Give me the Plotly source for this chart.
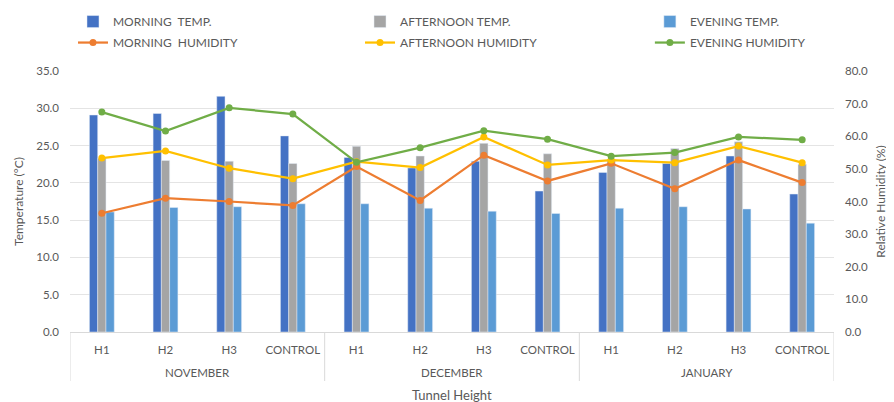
import plotly.graph_objects as go

months = ["NOVEMBER"] * 4 + ["DECEMBER"] * 4 + ["JANUARY"] * 4
heights = ["H1", "H2", "H3", "CONTROL"] * 3

morning_temp = [29.1, 29.3, 31.6, 26.3, 23.4, 22.0, 22.9, 18.9, 21.4, 22.6, 23.6, 18.5]
afternoon_temp = [23.3, 23.0, 22.9, 22.6, 24.9, 23.6, 25.3, 23.9, 23.2, 24.6, 25.5, 22.5]
evening_temp = [16.1, 16.7, 16.8, 17.2, 17.2, 16.6, 16.2, 15.9, 16.6, 16.8, 16.5, 14.6]
morning_hum = [36.4, 41.0, 40.0, 38.8, 50.7, 40.3, 54.2, 46.3, 51.7, 43.9, 52.7, 45.8]
afternoon_hum = [53.3, 55.5, 50.2, 47.0, 52.2, 50.4, 59.8, 51.2, 52.7, 51.9, 57.0, 51.9]
evening_hum = [67.4, 61.6, 68.7, 66.8, 52.0, 56.5, 61.7, 59.1, 53.9, 55.0, 59.8, 58.9]

idx = list(range(len(heights)))
FONT = "Lato, Arial, sans-serif"
TXT = "#595959"
LINE = "#d9d9d9"

fig = go.Figure()
fig.add_trace(go.Bar(x=idx, y=morning_temp, name="MORNING  TEMP.", marker_color="#4472C4",
                     legend="legend", legendgroup="a"))
fig.add_trace(go.Bar(x=idx, y=afternoon_temp, name="AFTERNOON TEMP.", marker_color="#A5A5A5",
                     legend="legend2", legendgroup="b"))
fig.add_trace(go.Bar(x=idx, y=evening_temp, name="EVENING TEMP.", marker_color="#5B9BD5",
                     legend="legend3", legendgroup="c"))
fig.add_trace(go.Scatter(x=idx, y=morning_hum, name="MORNING  HUMIDITY", yaxis="y2", mode="lines+markers",
                         line=dict(color="#ED7D31", width=2.25), marker=dict(size=7),
                         legend="legend", legendgroup="d"))
fig.add_trace(go.Scatter(x=idx, y=afternoon_hum, name="AFTERNOON HUMIDITY", yaxis="y2", mode="lines+markers",
                         line=dict(color="#FFC000", width=2.25), marker=dict(size=7),
                         legend="legend2", legendgroup="e"))
fig.add_trace(go.Scatter(x=idx, y=evening_hum, name="EVENING HUMIDITY", yaxis="y2", mode="lines+markers",
                         line=dict(color="#70AD47", width=2.25), marker=dict(size=7),
                         legend="legend3", legendgroup="f"))

# month group labels and dividers, derived from the months list
groups = []
for i, m in enumerate(months):
    if not groups or groups[-1][0] != m:
        groups.append([m, i, i])
    else:
        groups[-1][2] = i

PLOT_H = 261
annotations = []
shapes = []
for m, a, b in groups:
    annotations.append(dict(x=(a + b) / 2, y=-40 / PLOT_H, xref="x", yref="paper", text=m,
                            showarrow=False, yanchor="middle",
                            font=dict(family=FONT, size=11.5, color=TXT)))
    shapes.append(dict(type="line", xref="x", yref="paper", x0=a - 0.5, x1=a - 0.5,
                       y0=0, y1=-49 / PLOT_H, line=dict(color=LINE, width=1)))
shapes.append(dict(type="line", xref="x", yref="paper", x0=groups[-1][2] + 0.5, x1=groups[-1][2] + 0.5,
                   y0=0, y1=-49 / PLOT_H, line=dict(color=LINE, width=1)))
annotations.append(dict(x=0.5, y=-63 / PLOT_H, xref="paper", yref="paper", text="Tunnel Height",
                        showarrow=False, yanchor="middle",
                        font=dict(family=FONT, size=13, color=TXT)))

leg = dict(orientation="v", yanchor="top", y=1.245, xanchor="left", bgcolor="rgba(0,0,0,0)",
           font=dict(family=FONT, size=12, color=TXT), tracegroupgap=2, itemwidth=30)

fig.update_layout(
    width=886, height=394,
    margin=dict(l=62, r=60, t=63, b=70, autoexpand=False),
    paper_bgcolor="white", plot_bgcolor="white",
    font=dict(family=FONT, color=TXT, size=11),
    barmode="group", bargap=0.61, bargroupgap=0,
    legend=dict(leg, x=0.0039),
    legend2=dict(leg, x=0.3796),
    legend3=dict(leg, x=0.759),
    annotations=annotations,
    shapes=shapes,
    xaxis=dict(
        range=[-0.5, len(idx) - 0.5], tickmode="array", tickvals=idx, ticktext=heights,
        showgrid=False, showline=True, linecolor=LINE, linewidth=1, zeroline=False,
        tickangle=0, automargin=False, ticklabelstandoff=7,
        tickfont=dict(family=FONT, size=11.5, color=TXT),
    ),
    yaxis=dict(
        range=[0, 35], dtick=5, tickformat=".1f", showgrid=True, gridcolor="#e4e4e4", gridwidth=1,
        zeroline=False, showline=False, ticklabelstandoff=10, automargin=False,
        tickfont=dict(family=FONT, size=11.5, color=TXT),
        title=dict(text="Temperature (°C)", font=dict(family=FONT, size=12, color=TXT), standoff=10),
    ),
    yaxis2=dict(
        range=[0, 80], dtick=10, tickformat=".1f", overlaying="y", side="right", showgrid=False,
        zeroline=False, showline=False, ticklabelstandoff=10, automargin=False,
        tickfont=dict(family=FONT, size=11.5, color=TXT),
        title=dict(text="Relative Humidity (%)", font=dict(family=FONT, size=12, color=TXT), standoff=9),
    ),
)

fig.write_html("out.html")
